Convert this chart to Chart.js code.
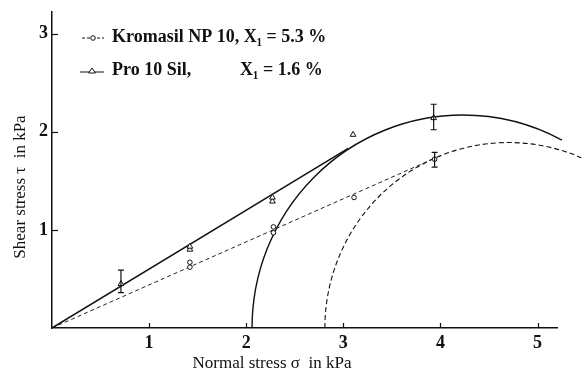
<!DOCTYPE html>
<html>
<head>
<meta charset="utf-8">
<script src="https://cdn.jsdelivr.net/npm/chart.js@4.4.0/dist/chart.umd.min.js"></script>
<style>
  body { margin: 0; background: #fff; }
  #wrap { width: 582px; height: 374px; }
</style>
</head>
<body>
<div id="wrap"><canvas id="shear" width="582" height="374"></canvas></div>
<script>
// Data (normal stress σ, shear stress τ, in kPa)
const seriesNames = ["Kromasil NP 10, X\u2081 = 5.3 %", "Pro 10 Sil,", "X\u2081 = 1.6 %"];

const kroSigma = [1.42, 1.42, 2.28, 2.28, 3.11, 3.94];
const kroTau = [0.62, 0.67, 0.97, 1.03, 1.33, 1.72];
const proSigma = [0.71, 1.42, 1.42, 2.27, 2.27, 3.10, 3.93];
const proTau = [0.45, 0.80, 0.83, 1.29, 1.33, 1.97, 2.14];

// yield loci (straight lines from the origin)
const kroLineSigma = [0, 3.94];
const kroLineTau = [0, 1.73];
const proLineSigma = [0, 3.05];
const proLineTau = [0, 1.83];

// error bars: sigma, low, high
const errSigma = [0.71, 3.93, 3.94];
const errLow = [0.36, 2.02, 1.64];
const errHigh = [0.59, 2.28, 1.79];

// Mohr circles: [Pro 10 Sil, Kromasil]
const mohrCenter = [4.23, 4.70];
const mohrRadius = [2.17, 1.89];
const mohrEndSigma = [5.25, 5.45];
const mohrDash = [[], [5, 3]];

const xTicks = [1, 2, 3, 4, 5];
const yTicks = [1, 2, 3];
const xTitle = "Normal stress \u03c3  in kPa";
const yTitle = "Shear stress \u03c4  in kPa";

const pts = (xs, ys) => xs.map((x, i) => ({ x: x, y: ys[i] }));
const serif = "'Liberation Serif', 'Times New Roman', serif";

const extras = {
	id: "extras",
	beforeDatasetsDraw(chart) {
		const { ctx, scales } = chart;
		const sx = scales.x, sy = scales.y;
		ctx.save();
		ctx.strokeStyle = "#111";
		// Mohr circles
		mohrCenter.forEach((c, i) => {
			const r = mohrRadius[i];
			const cx = sx.getPixelForValue(c), cy = sy.getPixelForValue(0);
			const rx = sx.getPixelForValue(c + r) - cx;
			const ry = cy - sy.getPixelForValue(r);
			const endA = 2 * Math.PI - Math.acos((mohrEndSigma[i] - c) / r);
			ctx.setLineDash(mohrDash[i]);
			ctx.lineWidth = i === 0 ? 1.4 : 1.1;
			ctx.beginPath();
			ctx.ellipse(cx, cy, rx, ry, 0, Math.PI, endA);
			ctx.stroke();
		});
		ctx.setLineDash([]);
		// inward tick marks
		ctx.lineWidth = 1.2;
		const x0 = sx.left, y0 = sy.bottom;
		xTicks.forEach(v => {
			const px = Math.round(sx.getPixelForValue(v)) + 0.5;
			ctx.beginPath(); ctx.moveTo(px, y0); ctx.lineTo(px, y0 - 5); ctx.stroke();
		});
		yTicks.forEach(v => {
			const py = Math.round(sy.getPixelForValue(v)) + 0.5;
			ctx.beginPath(); ctx.moveTo(x0, py); ctx.lineTo(x0 + 6, py); ctx.stroke();
		});
		ctx.restore();
	},
	afterDatasetsDraw(chart) {
		const { ctx, scales } = chart;
		const sx = scales.x, sy = scales.y;
		ctx.save();
		ctx.strokeStyle = "#111";
		ctx.lineWidth = 1.2;
		// error bars
		errSigma.forEach((s, i) => {
			const px = sx.getPixelForValue(s);
			const lo = sy.getPixelForValue(errLow[i]), hi = sy.getPixelForValue(errHigh[i]);
			ctx.beginPath();
			ctx.moveTo(px, lo); ctx.lineTo(px, hi);
			ctx.moveTo(px - 3, lo); ctx.lineTo(px + 3, lo);
			ctx.moveTo(px - 3, hi); ctx.lineTo(px + 3, hi);
			ctx.stroke();
		});
		// legend
		ctx.fillStyle = "#111";
		ctx.font = "bold 18px " + serif;
		ctx.textBaseline = "middle";
		ctx.textAlign = "left";
		ctx.fillText(seriesNames[0], 112, 37);
		ctx.fillText(seriesNames[1], 112, 70);
		ctx.fillText(seriesNames[2], 240, 70);
		ctx.lineWidth = 1;
		ctx.setLineDash([3, 2]);
		ctx.beginPath(); ctx.moveTo(82, 38); ctx.lineTo(104, 38); ctx.stroke();
		ctx.setLineDash([]);
		ctx.beginPath(); ctx.moveTo(80, 72); ctx.lineTo(104, 72); ctx.stroke();
		ctx.fillStyle = "#fff";
		ctx.beginPath(); ctx.arc(93, 38, 2.3, 0, 2 * Math.PI); ctx.fill(); ctx.stroke();
		ctx.beginPath(); ctx.moveTo(92, 68); ctx.lineTo(95.5, 73); ctx.lineTo(88.5, 73); ctx.closePath(); ctx.fill(); ctx.stroke();
		// axis titles
		ctx.fillStyle = "#111";
		ctx.font = "17px " + serif;
		ctx.textAlign = "center";
		ctx.fillText(xTitle, 272, 364);
		ctx.translate(21, 187);
		ctx.rotate(-Math.PI / 2);
		ctx.fillText(yTitle, 0, 0);
		ctx.restore();
	}
};

new Chart(document.getElementById("shear"), {
	type: "scatter",
	data: {
		datasets: [
			{
				label: "Pro 10 Sil",
				data: pts(proSigma, proTau),
				pointStyle: "triangle",
				pointRadius: 3.3,
				borderColor: "#111",
				backgroundColor: "#fff",
				borderWidth: 1,
			},
			{
				label: "Kromasil NP 10",
				data: pts(kroSigma, kroTau),
				pointStyle: "circle",
				pointRadius: 2.3,
				borderColor: "#111",
				backgroundColor: "#fff",
				borderWidth: 1,
			},
			{
				data: pts(proLineSigma, proLineTau),
				showLine: true,
				pointRadius: 0,
				borderColor: "#111",
				borderWidth: 1.5,
			},
			{
				data: pts(kroLineSigma, kroLineTau),
				showLine: true,
				pointRadius: 0,
				borderColor: "#222",
				borderWidth: 1,
				borderDash: [4, 3],
			},
		],
	},
	options: {
		responsive: false,
		animation: false,
		layout: { padding: { top: 12, right: 25, left: 0, bottom: 0 } },
		plugins: { legend: { display: false }, tooltip: { enabled: false } },
		scales: {
			x: {
				type: "linear",
				min: 0,
				max: 5.2,
				grid: { display: false },
				border: { color: "#111", width: 1.5 },
				ticks: {
					autoSkip: false,
					maxRotation: 0,
					color: "#111",
					padding: -3,
					font: { family: serif, size: 18, weight: "bold" },
				},
				afterBuildTicks: s => { s.ticks = xTicks.map(v => ({ value: v })); },
				afterFit: s => { s.height = 46; },
			},
			y: {
				type: "linear",
				min: 0,
				max: 3.22,
				grid: { display: false },
				border: { color: "#111", width: 1.5 },
				ticks: {
					autoSkip: false,
					color: "#111",
					padding: -4,
					font: { family: serif, size: 18, weight: "bold" },
				},
				afterBuildTicks: s => { s.ticks = yTicks.map(v => ({ value: v })); },
				afterFit: s => { s.width = 52; },
			},
		},
	},
	plugins: [extras],
});
</script>
</body>
</html>
